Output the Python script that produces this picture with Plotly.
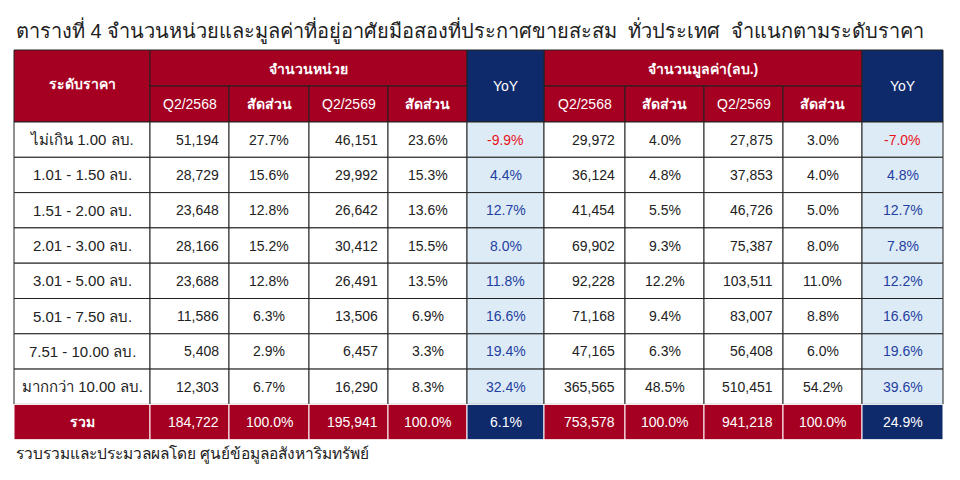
import plotly.graph_objects as go

title = "ตารางที่ 4 จำนวนหน่วยและมูลค่าที่อยู่อาศัยมือสองที่ประกาศขายสะสม  ทั่วประเทศ  จำแนกตามระดับราคา"
footer = "รวบรวมและประมวลผลโดย ศูนย์ข้อมูลอสังหาริมทรัพย์"

price_bands = ["ไม่เกิน 1.00 ลบ.", "1.01 - 1.50 ลบ.", "1.51 - 2.00 ลบ.", "2.01 - 3.00 ลบ.",
               "3.01 - 5.00 ลบ.", "5.01 - 7.50 ลบ.", "7.51 - 10.00 ลบ.", "มากกว่า 10.00 ลบ."]
units_2568 = ["51,194", "28,729", "23,648", "28,166", "23,688", "11,586", "5,408", "12,303"]
units_share_2568 = ["27.7%", "15.6%", "12.8%", "15.2%", "12.8%", "6.3%", "2.9%", "6.7%"]
units_2569 = ["46,151", "29,992", "26,642", "30,412", "26,491", "13,506", "6,457", "16,290"]
units_share_2569 = ["23.6%", "15.3%", "13.6%", "15.5%", "13.5%", "6.9%", "3.3%", "8.3%"]
units_yoy = ["-9.9%", "4.4%", "12.7%", "8.0%", "11.8%", "16.6%", "19.4%", "32.4%"]
value_2568 = ["29,972", "36,124", "41,454", "69,902", "92,228", "71,168", "47,165", "365,565"]
value_share_2568 = ["4.0%", "4.8%", "5.5%", "9.3%", "12.2%", "9.4%", "6.3%", "48.5%"]
value_2569 = ["27,875", "37,853", "46,726", "75,387", "103,511", "83,007", "56,408", "510,451"]
value_share_2569 = ["3.0%", "4.0%", "5.0%", "8.0%", "11.0%", "8.8%", "6.0%", "54.2%"]
value_yoy = ["-7.0%", "4.8%", "12.7%", "7.8%", "12.2%", "16.6%", "19.6%", "39.6%"]
total_row = ["รวม", "184,722", "100.0%", "195,941", "100.0%", "6.1%",
             "753,578", "100.0%", "941,218", "100.0%", "24.9%"]

RED = "#A50021"
NAVY = "#0F2A6B"
LIGHT = "#DDEBF7"
FONT = "Liberation Sans, Noto Sans, sans-serif"

col_edges = [14, 150, 229, 309, 388, 467, 544, 625, 704, 783, 862, 943]
head_top, head_mid, head_bot = 50, 86, 122
row_h = 35.3
yoy_cols = {5, 10}
right_cols = {1, 3, 6, 8}

fig = go.Figure()
shapes, annos = [], []


def rect(x0, x1, y0, y1, fill, lw=1, lc="#222"):
    shapes.append(dict(type="rect", x0=x0, x1=x1, y0=y0, y1=y1, fillcolor=fill,
                       line=dict(color=lc, width=lw), layer="below"))


def text(x, y, s, color="#222", bold=False, align="center", size=14):
    annos.append(dict(x=x, y=y, text=f"<b>{s}</b>" if bold else s, showarrow=False,
                      xanchor=align, yanchor="middle",
                      font=dict(family=FONT, size=size, color=color)))


# header
rect(col_edges[0], col_edges[1], head_top, head_bot, RED)
text((col_edges[0] + col_edges[1]) / 2, 84, "ระดับราคา", "white", True)
for grp, label in ((1, "จำนวนหน่วย"), (6, "จำนวนมูลค่า(ลบ.)")):
    rect(col_edges[grp], col_edges[grp + 4], head_top, head_mid, RED)
    text((col_edges[grp] + col_edges[grp + 4]) / 2, 69, label, "white", True)
    for k, sub in enumerate(["Q2/2568", "สัดส่วน", "Q2/2569", "สัดส่วน"]):
        c = grp + k
        rect(col_edges[c], col_edges[c + 1], head_mid, head_bot, RED)
        text((col_edges[c] + col_edges[c + 1]) / 2, 104, sub, "white", bold=(k % 2 == 1))
for c in yoy_cols:
    rect(col_edges[c], col_edges[c + 1], head_top, head_bot, NAVY)
    text((col_edges[c] + col_edges[c + 1]) / 2, 86, "YoY", "white")

# body
columns = [price_bands, units_2568, units_share_2568, units_2569, units_share_2569, units_yoy,
           value_2568, value_share_2568, value_2569, value_share_2569, value_yoy]
for r in range(len(price_bands)):
    y0 = head_bot + r * row_h
    y1 = y0 + row_h
    for c, col in enumerate(columns):
        fill = LIGHT if c in yoy_cols else "white"
        rect(col_edges[c], col_edges[c + 1], y0, y1, fill)
        val = col[r]
        color = "#222"
        size = 15 if c == 0 else 14
        if c in yoy_cols:
            color = "#E8141E" if val.startswith("-") else "#1F3FA0"
        if c in right_cols:
            text(col_edges[c + 1] - 8, (y0 + y1) / 2, val, color, align="right")
        else:
            text((col_edges[c] + col_edges[c + 1]) / 2, (y0 + y1) / 2, val, color, size=size)

# total
y0 = head_bot + len(price_bands) * row_h
y1 = y0 + row_h
for c, val in enumerate(total_row):
    fill = NAVY if c in yoy_cols else RED
    rect(col_edges[c], col_edges[c + 1], y0, y1, fill, lc="white")
    if c in right_cols:
        text(col_edges[c + 1] - 8, (y0 + y1) / 2, val, "white", align="right")
    else:
        text((col_edges[c] + col_edges[c + 1]) / 2, (y0 + y1) / 2, val, "white", bold=(c == 0))

text(14, 30, title, "#222", align="left", size=20)
text(14, 454, footer, "#222", align="left", size=15.5)

# page body has an 8px margin, so shift the coordinate frame to line up with the window
fig.update_layout(width=960, height=480, margin=dict(l=0, r=0, t=0, b=0),
                  plot_bgcolor="white", paper_bgcolor="white",
                  shapes=shapes, annotations=annos, showlegend=False)
fig.update_xaxes(range=[8, 968], visible=False, fixedrange=True)
fig.update_yaxes(range=[488, 8], visible=False, fixedrange=True)
fig.write_html("out.html")
